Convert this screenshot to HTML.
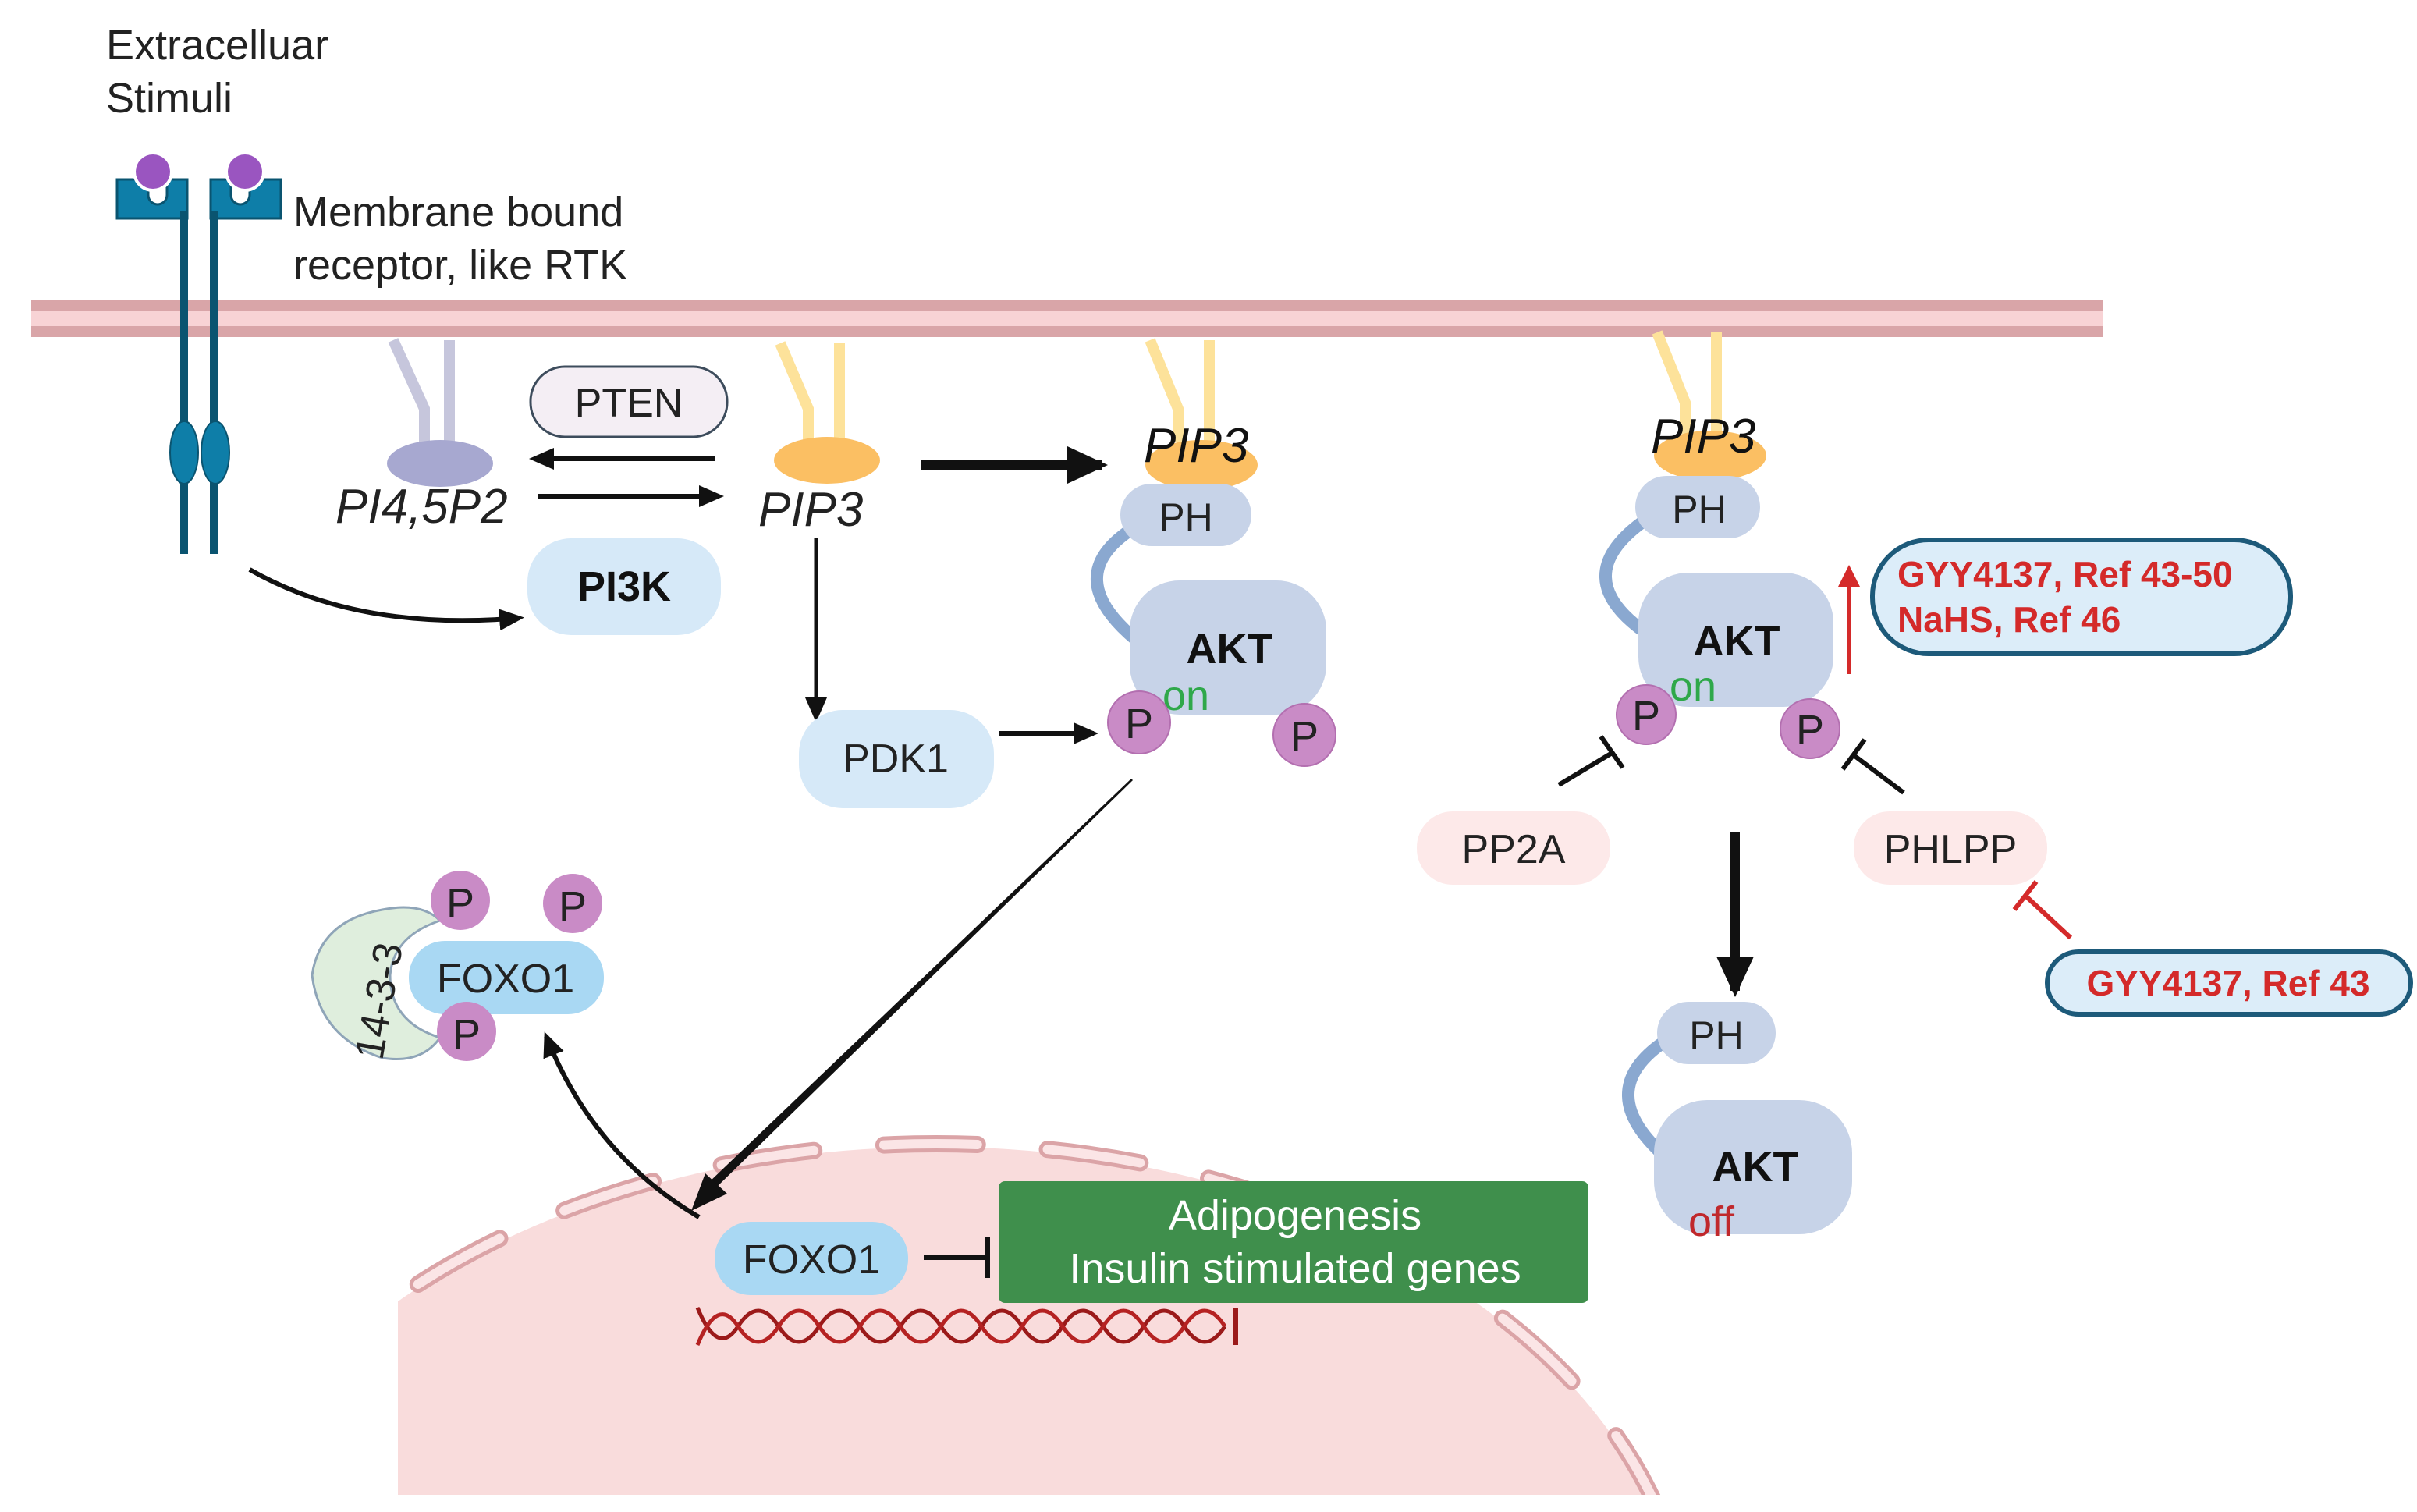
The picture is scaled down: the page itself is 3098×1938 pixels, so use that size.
<!DOCTYPE html>
<html><head><meta charset="utf-8"><style>
html,body{margin:0;padding:0;background:#fff;overflow:hidden;width:3098px;height:1938px;}
svg{display:block;}
text{font-family:"Liberation Sans",sans-serif;}
</style></head><body>
<svg width="3098" height="1938" viewBox="0 0 1549 969" xmlns="http://www.w3.org/2000/svg">
<defs>
<marker id="ahb" markerWidth="26" markerHeight="24" refX="22" refY="12" orient="auto" markerUnits="userSpaceOnUse"><path d="M0,0 L26,12 L0,24 z" fill="#111"/></marker>
<marker id="ahs" markerWidth="16" markerHeight="14" refX="13" refY="7" orient="auto" markerUnits="userSpaceOnUse"><path d="M0,0 L16,7 L0,14 z" fill="#111"/></marker>
<marker id="ahr" markerWidth="14" markerHeight="14" refX="10" refY="7" orient="auto" markerUnits="userSpaceOnUse"><path d="M0,0 L14,7 L0,14 z" fill="#d42a2a"/></marker>
<clipPath id="nuc"><rect x="255" y="600" width="900" height="358"/></clipPath>
</defs>

<!-- nucleus -->
<g clip-path="url(#nuc)">
<ellipse cx="600" cy="1060" rx="480" ry="325" fill="#f9dcdc"/>
<ellipse cx="600" cy="1060" rx="482" ry="327" fill="none" stroke="#dba4a7" stroke-width="11" stroke-dasharray="60 45" stroke-linecap="round"/>
<ellipse cx="600" cy="1060" rx="482" ry="327" fill="none" stroke="#fbe5e6" stroke-width="6" stroke-dasharray="60 45" stroke-linecap="round"/>
</g>

<!-- membrane -->
<rect x="20" y="192" width="1328" height="24" fill="#d9a5a8"/>
<rect x="20" y="199" width="1328" height="10" fill="#f8d3d5"/>

<!-- text top -->
<text x="68" y="38" font-size="27" fill="#222">Extracelluar</text>
<text x="68" y="72" font-size="27" fill="#222">Stimuli</text>
<text x="188" y="145" font-size="27" fill="#222">Membrane bound</text>
<text x="188" y="179" font-size="27" fill="#222">receptor, like RTK</text>

<!-- receptor -->
<g fill="#0e7ea8" stroke="#0a5470" stroke-width="1.5">
<path d="M75,115 h20 v10 a6,6 0 0 0 12,0 v-10 h13 v25 h-45 z"/>
<path d="M135,115 h13 v10 a6,6 0 0 0 12,0 v-10 h20 v25 h-45 z"/>
</g>
<line x1="118" y1="135" x2="118" y2="355" stroke="#0a5470" stroke-width="5"/>
<line x1="137" y1="135" x2="137" y2="355" stroke="#0a5470" stroke-width="5"/>
<ellipse cx="118" cy="290" rx="9" ry="20" fill="#0e7ea8" stroke="#0a5470"/>
<ellipse cx="138" cy="290" rx="9" ry="20" fill="#0e7ea8" stroke="#0a5470"/>
<circle cx="98" cy="110" r="12" fill="#9a55c0" stroke="#fff" stroke-width="2"/>
<circle cx="157" cy="110" r="12" fill="#9a55c0" stroke="#fff" stroke-width="2"/>

<!-- PI4,5P2 -->
<path d="M252,218 L272,262 L272,285 M288,218 L288,285" stroke="#c6c6dc" stroke-width="7" fill="none"/>
<ellipse cx="282" cy="297" rx="34" ry="15" fill="#a7a8d0"/>
<text x="215" y="335" font-size="31" font-style="italic" fill="#222">PI4,5P2</text>

<!-- PTEN -->
<rect x="340" y="235" width="126" height="45" rx="22" fill="#f4eef4" stroke="#3d4c5c" stroke-width="1.5"/>
<text x="403" y="267" font-size="26" text-anchor="middle" fill="#222">PTEN</text>
<line x1="458" y1="294" x2="342" y2="294" stroke="#111" stroke-width="3" marker-end="url(#ahs)"/>
<line x1="345" y1="318" x2="461" y2="318" stroke="#111" stroke-width="3" marker-end="url(#ahs)"/>

<!-- PIP3 -->
<path d="M500,220 L518,262 L518,283 M538,220 L538,283" stroke="#fde29a" stroke-width="7" fill="none"/>
<ellipse cx="530" cy="295" rx="34" ry="15" fill="#fbbf63"/>
<text x="486" y="337" font-size="31" font-style="italic" fill="#222">PIP3</text>

<!-- PI3K -->
<rect x="338" y="345" width="124" height="62" rx="28" fill="#d6e9f8"/>
<text x="400" y="385" font-size="27" font-weight="bold" text-anchor="middle" fill="#111">PI3K</text>
<path d="M160,365 Q230,405 333,396" stroke="#111" stroke-width="3" fill="none" marker-end="url(#ahs)"/>

<line x1="590" y1="298" x2="706" y2="298" stroke="#111" stroke-width="7" marker-end="url(#ahb)"/>
<line x1="523" y1="345" x2="523" y2="460" stroke="#111" stroke-width="2.5" marker-end="url(#ahs)"/>

<!-- PDK1 -->
<rect x="512" y="455" width="125" height="63" rx="28" fill="#d6e9f8"/>
<text x="574" y="495" font-size="26" text-anchor="middle" fill="#222">PDK1</text>
<line x1="640" y1="470" x2="701" y2="470" stroke="#111" stroke-width="3" marker-end="url(#ahs)"/>

<!-- AKT group 1 -->
<path d="M737,218 L755,262 L755,283 M775,218 L775,283" stroke="#fde29a" stroke-width="7" fill="none"/>
<ellipse cx="770" cy="298" rx="36" ry="16" fill="#fbbf63"/>
<text x="733" y="296" font-size="31" font-style="italic" fill="#111">PIP3</text>
<path d="M724,340 Q680,370 728,410" stroke="#8aa8d0" stroke-width="8" fill="none"/>
<rect x="718" y="310" width="84" height="40" rx="20" fill="#c7d3e8"/>
<text x="760" y="340" font-size="25" text-anchor="middle" fill="#222">PH</text>
<rect x="724" y="372" width="126" height="86" rx="32" fill="#c7d3e8"/>
<text x="788" y="425" font-size="27" font-weight="bold" text-anchor="middle" fill="#111">AKT</text>
<text x="745" y="455" font-size="27" fill="#2fa84a">on</text>
<circle cx="730" cy="463" r="20" fill="#c98bc6" stroke="#b36fb0"/>
<text x="730" y="473" font-size="27" text-anchor="middle" fill="#222">P</text>
<circle cx="836" cy="471" r="20" fill="#c98bc6" stroke="#b36fb0"/>
<text x="836" y="481" font-size="27" text-anchor="middle" fill="#222">P</text>

<polygon points="725,499 726,500 458,762 454,758" fill="#111"/>
<path d="M443,776 L452,752 L466,765 z" fill="#111"/>

<!-- AKT group 2 -->
<path d="M1062,213 L1080,258 L1080,278 M1100,213 L1100,278" stroke="#fde29a" stroke-width="7" fill="none"/>
<ellipse cx="1096" cy="292" rx="36" ry="16" fill="#fbbf63"/>
<text x="1058" y="290" font-size="31" font-style="italic" fill="#111">PIP3</text>
<path d="M1052,335 Q1005,370 1054,405" stroke="#8aa8d0" stroke-width="8" fill="none"/>
<rect x="1048" y="305" width="80" height="40" rx="20" fill="#c7d3e8"/>
<text x="1089" y="335" font-size="25" text-anchor="middle" fill="#222">PH</text>
<rect x="1050" y="367" width="125" height="86" rx="32" fill="#c7d3e8"/>
<text x="1113" y="420" font-size="27" font-weight="bold" text-anchor="middle" fill="#111">AKT</text>
<text x="1070" y="449" font-size="27" fill="#2fa84a">on</text>
<circle cx="1055" cy="458" r="19" fill="#c98bc6" stroke="#b36fb0"/>
<text x="1055" y="468" font-size="27" text-anchor="middle" fill="#222">P</text>
<circle cx="1160" cy="467" r="19" fill="#c98bc6" stroke="#b36fb0"/>
<text x="1160" y="477" font-size="27" text-anchor="middle" fill="#222">P</text>
<line x1="1185" y1="432" x2="1185" y2="366" stroke="#d42a2a" stroke-width="3" marker-end="url(#ahr)"/>

<rect x="1200" y="346" width="268" height="73" rx="36" fill="#dcedf9" stroke="#1d5a7a" stroke-width="3"/>
<text x="1216" y="376" font-size="23" font-weight="bold" fill="#d42a2a">GYY4137, Ref 43-50</text>
<text x="1216" y="405" font-size="23" font-weight="bold" fill="#d42a2a">NaHS, Ref 46</text>

<!-- inhibitors -->
<line x1="999" y1="503" x2="1034" y2="482" stroke="#111" stroke-width="3"/>
<line x1="1026" y1="472" x2="1040" y2="492" stroke="#111" stroke-width="3"/>
<line x1="1220" y1="508" x2="1188" y2="484" stroke="#111" stroke-width="3"/>
<line x1="1181" y1="493" x2="1195" y2="474" stroke="#111" stroke-width="3"/>

<rect x="908" y="520" width="124" height="47" rx="23" fill="#fde9e9"/>
<text x="970" y="553" font-size="26" text-anchor="middle" fill="#222">PP2A</text>
<rect x="1188" y="520" width="124" height="47" rx="23" fill="#fde9e9"/>
<text x="1250" y="553" font-size="26" text-anchor="middle" fill="#222">PHLPP</text>

<line x1="1327" y1="601" x2="1298" y2="574" stroke="#d42a2a" stroke-width="3"/>
<line x1="1291" y1="583" x2="1305" y2="565" stroke="#d42a2a" stroke-width="3"/>
<rect x="1312" y="610" width="233" height="40" rx="20" fill="#dcedf9" stroke="#1d5a7a" stroke-width="3"/>
<text x="1428" y="638" font-size="23" font-weight="bold" text-anchor="middle" fill="#d42a2a">GYY4137, Ref 43</text>

<line x1="1112" y1="533" x2="1112" y2="635" stroke="#111" stroke-width="6" marker-end="url(#ahb)"/>

<!-- AKT off -->
<path d="M1066,668 Q1020,700 1068,742" stroke="#8aa8d0" stroke-width="8" fill="none"/>
<rect x="1062" y="642" width="76" height="40" rx="20" fill="#c7d3e8"/>
<text x="1100" y="672" font-size="25" text-anchor="middle" fill="#222">PH</text>
<rect x="1060" y="705" width="127" height="86" rx="34" fill="#c7d3e8"/>
<text x="1125" y="757" font-size="27" font-weight="bold" text-anchor="middle" fill="#111">AKT</text>
<text x="1082" y="792" font-size="27" fill="#c0282c">off</text>

<!-- 14-3-3 / FOXO1 -->
<path d="M245,583 Q205,590 200,625 Q205,665 245,678 Q270,682 282,665 Q250,655 250,625 Q252,600 282,590 Q270,578 245,583 z" fill="#dfeedd" stroke="#8fa5b8" stroke-width="1.5"/>
<text transform="translate(245,680) rotate(-80)" font-size="26" fill="#222">14-3-3</text>
<rect x="262" y="603" width="125" height="47" rx="23" fill="#a9d8f3"/>
<text x="324" y="636" font-size="26" text-anchor="middle" fill="#222">FOXO1</text>
<circle cx="295" cy="577" r="19" fill="#c98bc6"/><text x="295" y="588" font-size="27" text-anchor="middle" fill="#222">P</text>
<circle cx="367" cy="579" r="19" fill="#c98bc6"/><text x="367" y="590" font-size="27" text-anchor="middle" fill="#222">P</text>
<circle cx="299" cy="661" r="19" fill="#c98bc6"/><text x="299" y="672" font-size="27" text-anchor="middle" fill="#222">P</text>
<path d="M448,780 Q380,740 350,664" stroke="#111" stroke-width="3" fill="none" marker-end="url(#ahs)"/>

<!-- nucleus contents -->
<rect x="458" y="783" width="124" height="47" rx="23" fill="#a9d8f3"/>
<text x="520" y="816" font-size="26" text-anchor="middle" fill="#222">FOXO1</text>
<line x1="592" y1="806" x2="632" y2="806" stroke="#111" stroke-width="3"/>
<line x1="633" y1="793" x2="633" y2="819" stroke="#111" stroke-width="3"/>
<rect x="640" y="757" width="378" height="78" rx="4" fill="#3f8f4c"/>
<text x="830" y="788" font-size="27" text-anchor="middle" fill="#fff">Adipogenesis</text>
<text x="830" y="822" font-size="27" text-anchor="middle" fill="#fff">Insulin stimulated genes</text>

<!-- DNA -->
<path d="M447,840 C455,866 465,866 473,840 C481,814 491,866 499,840" stroke="none" fill="none"/>
<path d="M447,838 Q460,870 473,850 T499,850 T525,850 T551,850 T577,850 T603,850 T629,850 T655,850 T681,850 T707,850 T733,850 T759,850 T785,850" stroke="#9b1a1a" stroke-width="2.5" fill="none"/>
<path d="M447,862 Q460,830 473,850 T499,850 T525,850 T551,850 T577,850 T603,850 T629,850 T655,850 T681,850 T707,850 T733,850 T759,850 T785,850" stroke="#b52222" stroke-width="2.5" fill="none"/>
<line x1="792" y1="838" x2="792" y2="862" stroke="#9b1a1a" stroke-width="3"/>
</svg>
</body></html>
